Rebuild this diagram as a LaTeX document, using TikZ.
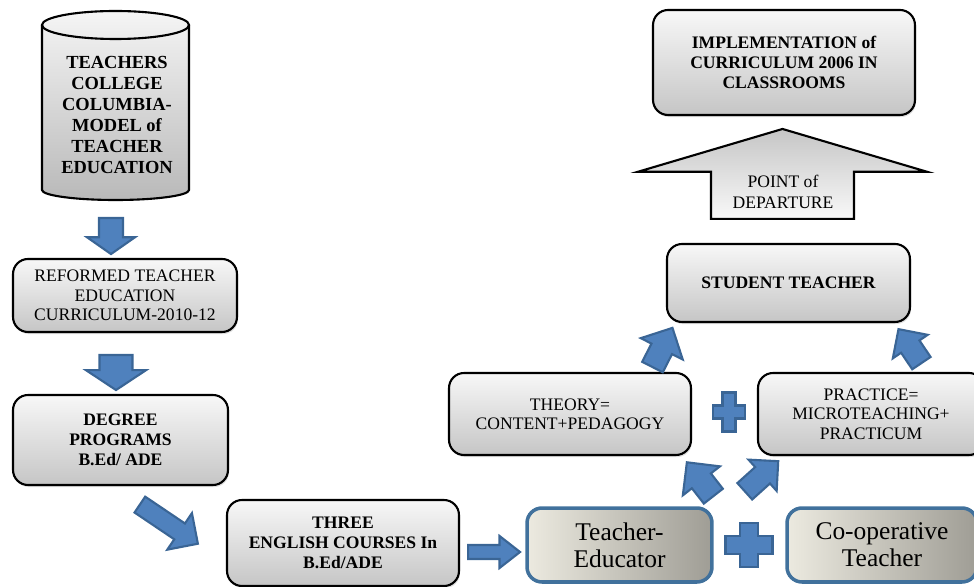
\documentclass[tikz,border=0pt]{standalone}
\usepackage{fontspec}
\setmainfont{Liberation Serif}
\usetikzlibrary{shapes.arrows,shadows}
\definecolor{arrblue}{HTML}{4F81BD}
\definecolor{arrline}{HTML}{3A6595}
\definecolor{tedge}{HTML}{41719C}
\definecolor{tlight}{HTML}{ECEAE0}
\definecolor{tdark}{HTML}{9F9D95}
\tikzset{
  graybox/.style={rectangle, rounded corners=3mm, draw=black, line width=1.2pt,
    top color=gray!6, bottom color=gray!45, align=center,
    font=\fontsize{10}{11}\selectfont,
    drop shadow={opacity=0.25, shadow xshift=0.6pt, shadow yshift=-1.2pt}},
  boldbox/.style={graybox, font=\fontsize{10}{11.5}\selectfont\bfseries},
  tbox/.style={rectangle, rounded corners=3mm, draw=tedge, line width=2pt,
    left color=tlight, right color=tdark, align=center,
    font=\fontsize{14.5}{15.5}\selectfont, minimum height=1.48cm},
  blockarr/.style={single arrow, draw=arrline, fill=arrblue, line width=1.2pt,
    inner xsep=0pt, anchor=tail},
}
\begin{document}
\begin{tikzpicture}[x=0.02cm,y=0.02cm]
\useasboundingbox (0,0) rectangle (974,-587);

% left column
\shade[top color=gray!8, bottom color=gray!55] (42,-25) -- (42,-190) arc[start angle=180,end angle=360,x radius=73.5,y radius=10] -- (189,-25) arc[start angle=0,end angle=180,x radius=73.5,y radius=14] -- cycle;
\draw[line width=1.2pt] (42,-25) -- (42,-190) arc[start angle=180,end angle=360,x radius=73.5,y radius=10] -- (189,-25);
\draw[line width=1.2pt] (115.5,-25) ellipse[x radius=73.5,y radius=14];
\node[align=center, font=\fontsize{10.5}{12}\selectfont\bfseries] (tcc) at (117,-115) {TEACHERS\\COLLEGE\\COLUMBIA-\\MODEL of\\TEACHER\\EDUCATION};

\node[graybox, minimum width=4.48cm, minimum height=1.46cm] (reformed) at (125,-295.5) {REFORMED TEACHER\\EDUCATION\\CURRICULUM-2010-12};
\node[boldbox, minimum width=4.30cm, minimum height=1.80cm] (degree) at (120.5,-440) {DEGREE\\PROGRAMS\\B.Ed/ ADE};
\node[boldbox, minimum width=4.64cm, minimum height=1.72cm] (courses) at (343,-543) {THREE\\ENGLISH COURSES In\\B.Ed/ADE};

% bottom row
\node[tbox, minimum width=3.70cm] (tedu) at (619.5,-545) {Teacher-\\Educator};
\node[tbox, minimum width=3.80cm] (coop) at (882,-545) {Co-operative\\Teacher};

% middle row
\node[graybox, minimum width=4.84cm, minimum height=1.64cm] (theory) at (570,-414) {THEORY=\\CONTENT+PEDAGOGY};
\node[graybox, minimum width=4.52cm, minimum height=1.64cm] (practice) at (871,-414) {PRACTICE=\\MICROTEACHING+\\PRACTICUM};

% top
\node[boldbox, minimum width=4.86cm, minimum height=1.56cm] (student) at (788.5,-283) {STUDENT TEACHER};
\node[single arrow, rotate=90, anchor=tail, draw=black, line width=1.2pt, inner xsep=0pt, inner ysep=1.41cm,
  top color=gray!45, bottom color=gray!5, minimum height=1.80cm,
  single arrow head extend=1.46cm, single arrow tip angle=147] (depart) at (782.5,-220) {};
\node[align=center, font=\fontsize{10}{11.5}\selectfont] (departtext) at (783,-192) {POINT of\\DEPARTURE};
\node[boldbox, minimum width=5.24cm, minimum height=2.10cm] (impl) at (784,-62.5) {IMPLEMENTATION of\\CURRICULUM 2006 IN\\CLASSROOMS};

% blue arrows
\node[blockarr, rotate=-90, minimum height=0.72cm, inner ysep=0.22cm, single arrow head extend=0.24cm, single arrow tip angle=110] (a1) at (111,-217) {};
\node[blockarr, rotate=-90, minimum height=0.70cm, inner ysep=0.31cm, single arrow head extend=0.27cm, single arrow tip angle=113] (a2) at (116,-354) {};
\node[blockarr, rotate=-34, minimum height=1.40cm, inner ysep=0.17cm, single arrow head extend=0.25cm] (a3) at (139,-504) {};
\node[blockarr, rotate=0, minimum height=1.04cm, inner ysep=0.12cm, single arrow head extend=0.18cm, single arrow tip angle=76] (a4) at (467,-552) {};
\node[blockarr, rotate=128, minimum height=0.86cm, inner ysep=0.22cm, single arrow head extend=0.23cm] (a5) at (714,-497) {};
\node[blockarr, rotate=42, minimum height=0.90cm, inner ysep=0.20cm, single arrow head extend=0.20cm] (a6) at (744,-492) {};
\node[blockarr, rotate=63, minimum height=0.88cm, inner ysep=0.21cm, single arrow head extend=0.24cm] (a7) at (652,-368) {};
\node[blockarr, rotate=124, minimum height=0.82cm, inner ysep=0.20cm, single arrow head extend=0.20cm] (a8) at (922,-364) {};

% plus signs
\filldraw[fill=arrblue, draw=arrline, line width=1.2pt] (740,-523) -- (758,-523) -- (758,-536) -- (772.5,-536) -- (772.5,-554) -- (758,-554) -- (758,-567) -- (740,-567) -- (740,-554) -- (725.5,-554) -- (725.5,-536) -- (740,-536) -- cycle;
\filldraw[fill=arrblue, draw=arrline, line width=1.2pt] (722.5,-392.5) -- (735.5,-392.5) -- (735.5,-405.5) -- (745,-405.5) -- (745,-418.5) -- (735.5,-418.5) -- (735.5,-431.5) -- (722.5,-431.5) -- (722.5,-418.5) -- (713,-418.5) -- (713,-405.5) -- (722.5,-405.5) -- cycle;
\end{tikzpicture}
\end{document}
